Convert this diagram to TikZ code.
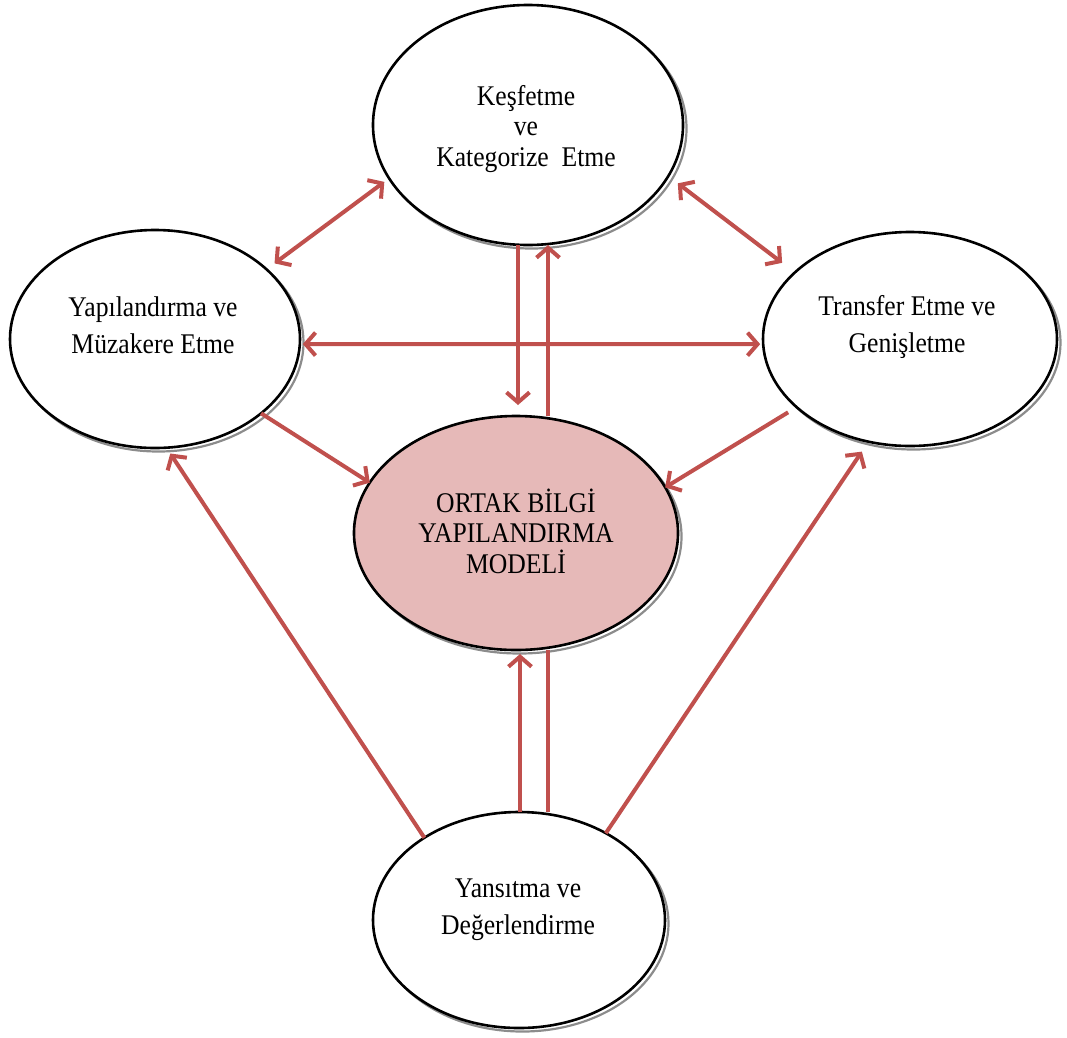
\documentclass[tikz,border=0pt]{standalone}
\usepackage{fontspec}
\setmainfont{Liberation Serif}[FakeStretch=0.9]
\usetikzlibrary{arrows.meta,calc,shapes.geometric}
\definecolor{arrowred}{HTML}{C0504D}
\definecolor{corefill}{HTML}{E6B9B8}

\begin{document}
\begin{tikzpicture}[x=1pt,y=-1pt,
  phase/.style={ellipse, draw=black, line width=2.6pt, fill=white,
    inner sep=0pt, outer sep=0pt},
  halo/.style={ellipse, draw=black!45, line width=2.2pt,
    inner sep=0pt, outer sep=0pt},
  phasetext/.style={align=center, inner sep=0pt, text=black},
  twoline/.style={phasetext, font=\fontsize{28.5}{37}\selectfont},
  threeline/.style={phasetext, font=\fontsize{28.5}{30.5}\selectfont},
  link/.style={draw=arrowred, line width=4pt},
  onehead/.style={link, -{Straight Barb[length=10pt,width=23pt]}},
  twoheads/.style={link, {Straight Barb[length=10pt,width=23pt]}-{Straight Barb[length=10pt,width=23pt]}}
]
\useasboundingbox (0,0) rectangle (1067,1037);

% offset outlines giving each ellipse its shadow
\node[halo, minimum width=310pt, minimum height=240pt] (Ts) at (531.5,128.5) {};
\node[halo, minimum width=290pt, minimum height=218pt] (Ls) at (158.5,342.5) {};
\node[halo, minimum width=294pt, minimum height=214pt] (Rs) at (913.5,342.5) {};
\node[halo, minimum width=324pt, minimum height=234pt] (Cs) at (519.5,536.5) {};
\node[halo, minimum width=292pt, minimum height=216pt] (Bs) at (522.5,923.5) {};

% the five phases
\node[phase, minimum width=310pt, minimum height=240pt] (T) at (528,125) {};
\node[phase, minimum width=290pt, minimum height=218pt] (L) at (155,339) {};
\node[phase, minimum width=294pt, minimum height=214pt] (R) at (910,339) {};
\node[phase, fill=corefill, minimum width=324pt, minimum height=234pt] (C) at (516,533) {};
\node[phase, minimum width=292pt, minimum height=216pt] (B) at (519,920) {};

% labels
\node[threeline] (Tt) at (526,129) {Keşfetme\\ve\\Kategorize\hspace{0.45em}Etme};
\node[twoline] (Lt) at (153,325) {Yapılandırma ve\\Müzakere Etme};
\node[twoline] (Rt) at (907,327) {Transfer Etme ve\\Genişletme};
\node[threeline] (Ct) at (516,531) {ORTAK BİLGİ\\YAPILANDIRMA\\MODELİ};
\node[twoline] (Bt) at (518,910) {Yansıtma ve\\Değerlendirme};

% two-way links between the outer phases
\draw[twoheads, shorten <=10pt, shorten >=6pt] (L.32) -- (T.201);
\draw[twoheads, shorten <=12pt, shorten >=16pt] (T.340) -- (R.150);
\draw[twoheads, shorten <=3pt, shorten >=3pt] (L.-2.4) -- (R.182.7);

% links into the model
\draw[onehead] (L.325) -- (C.161.6);
\draw[onehead, shorten <=10pt] (R.211.3) -- (C.17.3);
\draw[onehead, shorten >=11pt] ($(T.south)+(-10,0)$) -- ($(C.north)+(2,0)$);
\draw[onehead] ($(C.north)+(32,0)$) -- ($(T.south)+(20,0)$);
\draw[onehead, shorten >=4pt] ($(B.north)+(1,0)$) -- ($(C.south)+(4,0)$);
\draw[link] ($(C.south)+(32,0)$) -- ($(B.north)+(29,0)$);

% links from reflection to the side phases
\draw[onehead, shorten >=7pt] (B.139.7) -- (L.276.4);
\draw[onehead, shorten >=12pt] (B.45.3) -- (R.248);
\end{tikzpicture}
\end{document}
